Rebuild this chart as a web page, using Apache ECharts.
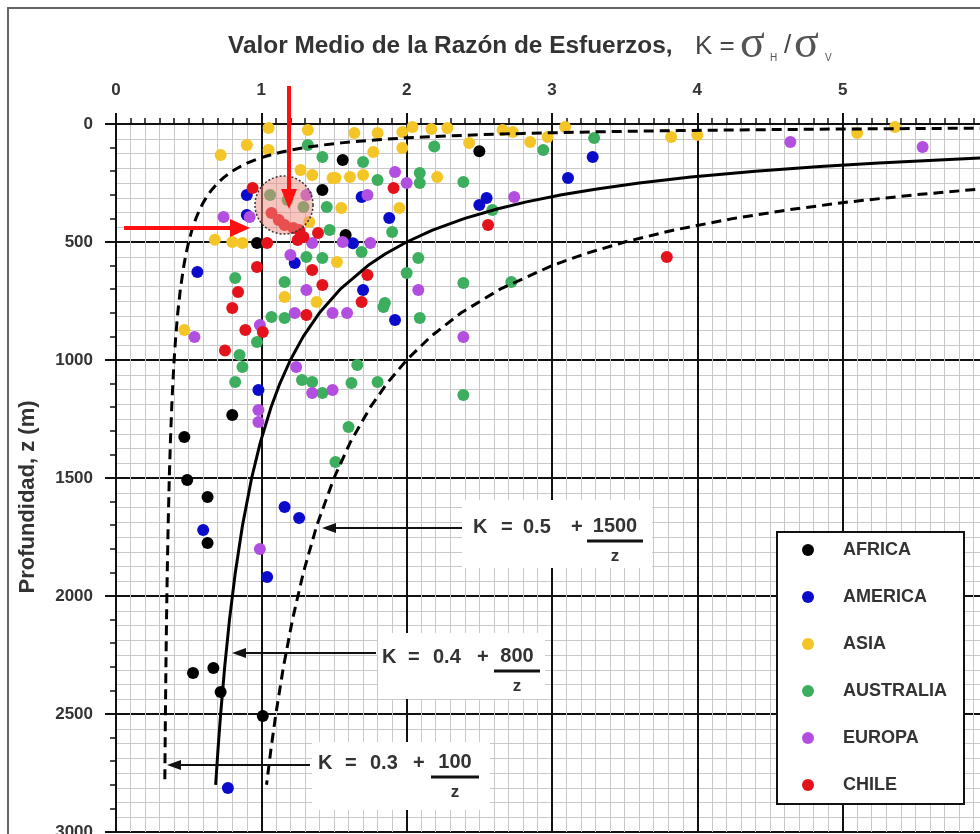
<!DOCTYPE html>
<html>
<head>
<meta charset="utf-8">
<script src="https://cdn.jsdelivr.net/npm/echarts@6/dist/echarts.min.js"></script>
<style>
  html, body { margin: 0; padding: 0; background: #ffffff; }
  #chart { width: 980px; height: 834px; }
</style>
</head>
<body>
<div id="chart"></div>
<script>
// Stress ratio K = sigma_H / sigma_V versus depth z (m), grouped by region.
const regions = ['AFRICA', 'AMERICA', 'ASIA', 'AUSTRALIA', 'EUROPA', 'CHILE'];
const regionColors = ['#000000', '#0b0bcc', '#f4c526', '#3dae5e', '#b24ee0', '#e3121b'];

// Each point: [K, depth in m]
const africa = [
  [1.56, 153], [1.42, 280], [1.58, 470], [0.97, 504], [2.50, 115], [0.80, 1233],
  [0.47, 1326], [0.49, 1508], [0.63, 1581], [0.63, 1775], [0.53, 2326], [0.67, 2305],
  [0.72, 2407], [1.01, 2508]
];
const america = [
  [0.90, 301], [0.90, 386], [0.56, 627], [1.23, 589], [1.69, 309], [1.88, 398],
  [1.70, 703], [1.92, 831], [1.63, 505], [2.50, 343], [2.55, 314], [3.11, 229],
  [3.28, 140], [0.98, 1127], [1.16, 1623], [1.26, 1669], [0.60, 1720], [1.04, 1919],
  [0.77, 2814]
];
const asia = [
  [0.72, 131], [0.90, 89], [1.05, 17], [1.05, 110], [1.32, 25], [1.27, 195],
  [1.35, 216], [1.49, 229], [1.61, 225], [1.70, 216], [1.55, 356], [0.68, 490],
  [0.80, 500], [0.87, 504], [0.47, 873], [1.64, 38], [1.80, 38], [1.97, 34],
  [2.04, 13], [2.17, 21], [2.28, 17], [2.43, 81], [1.77, 119], [1.97, 102],
  [1.51, 229], [1.95, 356], [2.21, 225], [2.66, 25], [2.73, 34], [2.85, 76],
  [2.97, 55], [3.09, 13], [3.82, 55], [4.00, 47], [5.10, 38], [5.36, 13],
  [1.52, 585], [1.16, 733], [1.38, 754], [1.33, 415]
];
const australia = [
  [1.32, 89], [1.42, 140], [1.70, 161], [1.80, 237], [1.45, 352], [1.90, 458],
  [2.19, 95], [2.94, 110], [3.29, 59], [2.09, 208], [2.09, 250], [2.39, 246],
  [2.59, 364], [2.08, 568], [2.00, 631], [1.85, 758], [2.09, 822], [2.39, 674],
  [2.72, 669], [0.82, 653], [1.16, 669], [1.07, 818], [1.16, 822], [0.97, 924],
  [0.85, 979], [0.87, 1030], [0.82, 1093], [1.28, 1085], [1.35, 1093], [1.42, 1140],
  [1.66, 1021], [1.62, 1097], [1.80, 1093], [1.84, 775], [1.60, 1284], [1.51, 1432],
  [2.39, 1148], [1.31, 564], [1.42, 568], [1.69, 542], [1.06, 301], [1.29, 352],
  [1.18, 322], [1.47, 449]
];
const europa = [
  [1.92, 203], [1.31, 301], [0.74, 394], [0.92, 394], [1.73, 301], [1.56, 500],
  [1.75, 504], [1.35, 504], [1.20, 555], [1.31, 703], [1.23, 801], [1.49, 801],
  [1.59, 801], [0.99, 852], [0.54, 903], [1.24, 1030], [1.35, 1140], [1.49, 1127],
  [0.98, 1212], [0.98, 1263], [0.99, 1801], [2.00, 250], [2.08, 703], [2.39, 903],
  [2.74, 309], [4.64, 76], [5.55, 97]
];
const chile = [
  [0.94, 271], [1.07, 377], [1.16, 428], [1.22, 441], [1.04, 504], [1.29, 479],
  [1.39, 462], [0.97, 606], [0.84, 712], [0.80, 780], [0.89, 873], [1.01, 881],
  [0.75, 960], [1.42, 682], [1.69, 754], [1.73, 640], [1.35, 619], [1.91, 271],
  [1.25, 492], [1.31, 809], [2.56, 428], [3.79, 564], [1.12, 407], [1.26, 449]
];
const regionData = [africa, america, asia, australia, europa, chile];

// Envelope curves K = a + b / z, as written on their labels
const envelopeA = [0.3, 0.4, 0.5];
const envelopeB = [100, 800, 1500];
const envelopeDash = [[10, 6], 'solid', [10, 6]];
const envelopeDepths = [
  14, 15, 16, 17, 18, 19, 20, 22, 24, 26, 28, 30, 33, 36, 40, 45, 50, 55, 60, 70, 80, 90,
  100, 110, 120, 130, 140, 150, 165, 180, 200, 225, 250, 275, 300, 330, 360, 400, 450,
  500, 550, 600, 700, 800, 900, 1000, 1100, 1200, 1350, 1500, 1700, 1900, 2100, 2300,
  2500, 2650, 2800
];

const FONT = '"Liberation Sans", Arial, sans-serif';
const SERIF = '"Liberation Serif", serif';
const TXT = '#333333';

const scatterSeries = regions.map((name, i) => ({
  type: 'scatter',
  name: name,
  data: regionData[i],
  symbol: 'circle',
  symbolSize: 12,
  itemStyle: { color: regionColors[i], opacity: 1 },
  z: 3
}));

const envelopeSeries = envelopeA.map((a, i) => ({
  type: 'line',
  name: 'K = ' + a + ' + ' + envelopeB[i] + '/z',
  data: envelopeDepths
    .map(z => [a + envelopeB[i] / z, z])
    .filter(p => p[0] <= 8),
  symbol: 'none',
  showSymbol: false,
  silent: true,
  clip: true,
  lineStyle: { color: '#000000', width: 3, type: envelopeDash[i] },
  z: 6
}));

// Annotation helpers
function txt(x, y, text, font, align, fill, extra) {
  return Object.assign({
    type: 'text', x: x, y: y, z: 60,
    style: {
      text: text, font: font, fill: fill || TXT,
      textAlign: align || 'left', align: align || 'left',
      textVerticalAlign: 'middle', verticalAlign: 'middle'
    }
  }, extra || {});
}
function seg(x1, y1, x2, y2, color, w, z) {
  return {
    type: 'line', z: z || 60,
    shape: { x1: x1, y1: y1, x2: x2, y2: y2 },
    style: { stroke: color, lineWidth: w }
  };
}
function tri(points, color, z) {
  return { type: 'polygon', z: z || 60, shape: { points: points }, style: { fill: color } };
}
function labelBox(x, y, w, h) {
  return { type: 'rect', z: 50, shape: { x: x, y: y, width: w, height: h }, style: { fill: '#ffffff' } };
}
const LBL = 'bold 20px ' + FONT;
const ZF = 'bold 17px ' + FONT;

function formulaLabel(tipX, endX, arrowY, textY, pos, a, num, fracX, barHalf) {
  return [
    seg(tipX + 10, arrowY, endX, arrowY, '#111', 2),
    tri([[tipX, arrowY], [tipX + 14, arrowY - 5], [tipX + 14, arrowY + 5]], '#111'),
    txt(pos[0], textY, 'K', LBL),
    txt(pos[1], textY, '=', LBL),
    txt(pos[2], textY, String(a), LBL),
    txt(pos[3], textY, '+', LBL),
    txt(fracX, textY - 1, String(num), LBL, 'center'),
    seg(fracX - barHalf, textY + 14, fracX + barHalf, textY + 14, '#111', 3),
    txt(fracX, textY + 29, 'z', ZF, 'center')
  ];
}

const graphics = [
  // outer frame
  { type: 'rect', z: 1, shape: { x: 8, y: 8, width: 1000, height: 1000 },
    style: { fill: 'none', stroke: '#666666', lineWidth: 2 } },
  // title
  txt(228, 46, 'Valor Medio de la Razón de Esfuerzos,', 'bold 24.4px ' + FONT),
  txt(695, 47, 'K =', '26px ' + FONT, 'left', '#444'),
  txt(740, 45, 'σ', '46px ' + SERIF, 'left', '#555'),
  txt(770, 58, 'H', '10px ' + FONT, 'left', '#555'),
  txt(784, 46, '/', '26px ' + FONT, 'left', '#444'),
  txt(794, 45, 'σ', '46px ' + SERIF, 'left', '#555'),
  txt(825, 58, 'V', '10px ' + FONT, 'left', '#555'),
  // vertical axis name
  txt(28, 497, 'Profundidad, z (m)', 'bold 22px ' + FONT, 'center', TXT, { rotation: Math.PI / 2 }),
  // white boxes behind the formula labels
  labelBox(462, 500, 190, 68),
  labelBox(378, 633, 167, 66),
  labelBox(312, 742, 178, 68),
  // legend frame
  { type: 'rect', z: 15, shape: { x: 777, y: 532, width: 187, height: 272 },
    style: { fill: '#ffffff', stroke: '#111111', lineWidth: 2 } }
]
  .concat(formulaLabel(322, 462, 528, 527, [473, 501, 523, 571], '0.5', 1500, 615, 28))
  .concat(formulaLabel(232, 376, 653, 657, [382, 408, 433, 477], '0.4', 800, 517, 23))
  .concat(formulaLabel(167, 310, 765, 763, [318, 345, 370, 413], '0.3', 100, 455, 24))
  .concat([
    // highlighted cluster
    { type: 'circle', z: 40, shape: { cx: 284, cy: 205, r: 29 },
      style: { fill: 'rgba(240,140,130,0.5)', stroke: '#333333', lineWidth: 1.5, lineDash: [2, 2] } },
    // red pointers
    seg(289, 86, 289, 192, '#ff1010', 4, 70),
    tri([[289, 209], [281, 189], [297, 189]], '#ff1010', 70),
    seg(124, 228, 234, 228, '#ff1010', 4, 70),
    tri([[250, 228], [230, 219], [230, 237]], '#ff1010', 70)
  ]);

const plainNumber = v => String(v);

const option = {
  animation: false,
  backgroundColor: '#ffffff',
  grid: { left: 116, top: 124, width: 872, height: 708, containLabel: false, outerBoundsMode: 'none' },
  xAxis: {
    type: 'value', position: 'top', min: 0, max: 6, interval: 1,
    axisLine: { show: true, onZero: false, lineStyle: { color: '#111', width: 2 } },
    axisTick: { show: true, inside: false, length: 11, lineStyle: { color: '#111', width: 2 } },
    minorTick: { show: true, splitNumber: 10, length: 6, lineStyle: { color: '#111', width: 1.5 } },
    axisLabel: { margin: 25, fontFamily: FONT, fontWeight: 'bold', fontSize: 17, color: TXT, formatter: plainNumber },
    splitLine: { show: true, lineStyle: { color: '#111', width: 2 } },
    minorSplitLine: { show: true, lineStyle: { color: '#c9c9c9', width: 1 } }
  },
  yAxis: [
    {
      type: 'value', inverse: true, min: 0, max: 3000, interval: 500,
      axisLine: { show: true, onZero: false, lineStyle: { color: '#111', width: 2 } },
      axisTick: { show: true, inside: false, length: 11, lineStyle: { color: '#111', width: 2 } },
      minorTick: { show: true, splitNumber: 5, length: 6, lineStyle: { color: '#111', width: 1.5 } },
      axisLabel: { margin: 23, fontFamily: FONT, fontWeight: 'bold', fontSize: 17, color: TXT, formatter: plainNumber },
      splitLine: { show: true, lineStyle: { color: '#111', width: 2 } },
      minorSplitLine: { show: false }
    },
    {
      type: 'value', inverse: true, min: 0, max: 3000, interval: 500, position: 'left',
      axisLine: { show: false }, axisTick: { show: false }, axisLabel: { show: false },
      splitLine: { show: false },
      minorTick: { show: false, splitNumber: 8 },
      minorSplitLine: { show: true, lineStyle: { color: '#c9c9c9', width: 1 } }
    }
  ],
  legend: {
    data: regions,
    orient: 'vertical',
    left: 797, top: 536,
    itemWidth: 12, itemHeight: 12, itemGap: 29,
    icon: 'circle',
    selectedMode: false,
    z: 20,
    textStyle: { fontFamily: FONT, fontWeight: 'bold', fontSize: 18, color: TXT, padding: [0, 0, 0, 24] }
  },
  series: scatterSeries.concat(envelopeSeries),
  graphic: { elements: graphics }
};

const chart = echarts.init(document.getElementById('chart'), null, { renderer: 'canvas' });
chart.setOption(option);
</script>
</body>
</html>
